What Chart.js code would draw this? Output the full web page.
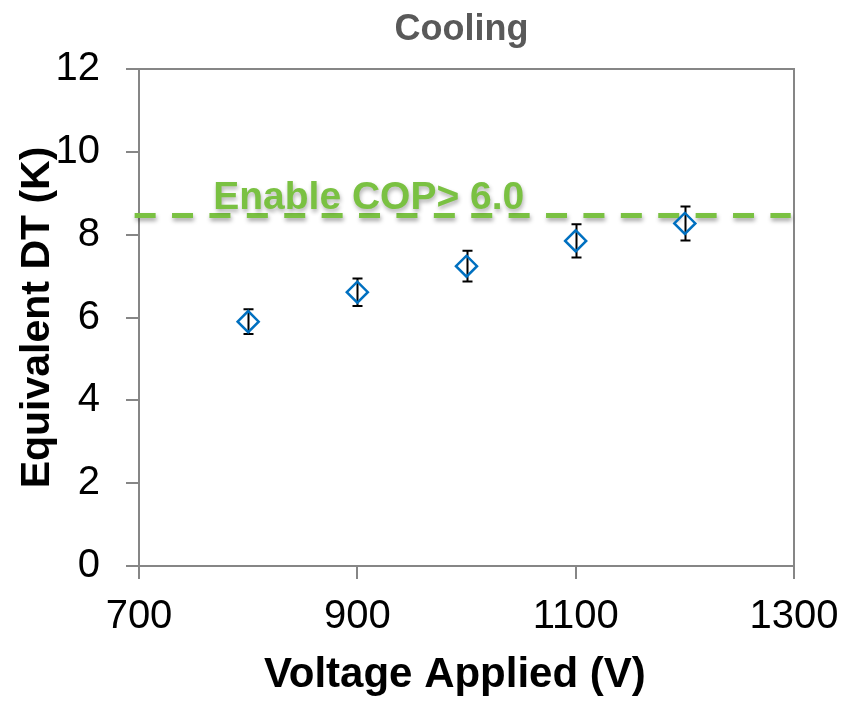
<!DOCTYPE html>
<html>
<head>
<meta charset="utf-8">
<style>
  html, body { margin: 0; padding: 0; background: #fff; overflow: hidden; }
  #myChart { display: block; }
</style>
</head>
<body>
<canvas id="myChart" width="846" height="701"></canvas>
<script src="https://cdn.jsdelivr.net/npm/chart.js@4/dist/chart.umd.min.js"></script>
<script>
// values
const voltages = [800, 900, 1000, 1100, 1200];
const deltaT = [5.90, 6.61, 7.24, 7.85, 8.27];
const errors = [0.30, 0.33, 0.37, 0.40, 0.41];
const copLimit = 8.46;
const limitRange = [696, 1297];
const copLabel = 'Enable COP> 6.0';
const xTicks = [700, 900, 1100, 1300];
const yTicks = [0, 2, 4, 6, 8, 10, 12];

const AXIS_GREY = '#868686';
const GREEN = '#7AC142';
const FONT = "'Liberation Sans', Arial, sans-serif";

Chart.defaults.font.family = FONT;

// error bars, box border, shadow for the dashed line, green label
const extras = {
    id: 'extras',
    beforeDatasetsDraw(chart) {
        const {ctx, chartArea: a, scales: {x, y}} = chart;
        ctx.save();
        ctx.strokeStyle = AXIS_GREY;
        ctx.lineWidth = 2;
        ctx.beginPath();
        ctx.moveTo(a.left, a.top);
        ctx.lineTo(a.right, a.top);
        ctx.lineTo(a.right, a.bottom);
        ctx.stroke();

        ctx.strokeStyle = '#000';
        ctx.lineWidth = 2;
        voltages.forEach((v, i) => {
            const px = Math.round(x.getPixelForValue(v)) + 0.5;
            const top = y.getPixelForValue(deltaT[i] + errors[i]);
            const bot = y.getPixelForValue(deltaT[i] - errors[i]);
            ctx.beginPath();
            ctx.moveTo(px, top); ctx.lineTo(px, bot);
            ctx.moveTo(px - 5, top); ctx.lineTo(px + 5, top);
            ctx.moveTo(px - 5, bot); ctx.lineTo(px + 5, bot);
            ctx.stroke();
        });
        ctx.restore();
    },
    beforeDatasetDraw(chart, args) {
        if (args.index !== 1) return;
        const ctx = chart.ctx;
        ctx.save();
        ctx.shadowColor = 'rgba(0,0,0,0.35)';
        ctx.shadowBlur = 4;
        ctx.shadowOffsetX = 1;
        ctx.shadowOffsetY = 3;
    },
    afterDatasetDraw(chart, args) {
        if (args.index !== 1) return;
        chart.ctx.restore();
    },
    afterDatasetsDraw(chart) {
        const {ctx, scales: {x, y}} = chart;
        ctx.save();
        ctx.shadowColor = 'rgba(0,0,0,0.3)';
        ctx.shadowBlur = 4;
        ctx.shadowOffsetX = 1;
        ctx.shadowOffsetY = 3;
        ctx.fillStyle = GREEN;
        ctx.font = "bold 39px " + FONT;
        ctx.textAlign = 'left';
        ctx.textBaseline = 'alphabetic';
        ctx.fillText(copLabel, x.getPixelForValue(768), y.getPixelForValue(copLimit) - 7);
        ctx.restore();
    }
};

const ctx = document.getElementById('myChart').getContext('2d');
const myChart = new Chart(ctx, {
    type: 'scatter',
    data: {
        datasets: [{
            label: 'Cooling',
            data: voltages.map((v, i) => ({x: v, y: deltaT[i]})),
            pointStyle: 'rectRot',
            pointRadius: 10.5,
            pointBorderWidth: 2.5,
            borderColor: '#0070C0',
            backgroundColor: 'rgba(0,0,0,0)',
            showLine: false,
            order: 1
        }, {
            label: 'COP limit',
            data: limitRange.map(v => ({x: v, y: copLimit})),
            borderColor: GREEN,
            borderWidth: 5,
            borderDash: [21, 16.4],
            pointRadius: 0,
            showLine: true,
            clip: false,
            order: 2
        }]
    },
    options: {
        responsive: false,
        animation: false,
        events: [],
        layout: {
            padding: {left: 0, right: 52, top: 0, bottom: 0}
        },
        plugins: {
            legend: {display: false},
            tooltip: {enabled: false},
            title: {
                display: true,
                fullSize: false,
                text: 'Cooling ',
                color: '#595959',
                font: {size: 36, weight: 'bold'},
                padding: {top: 8, bottom: 17.8}
            }
        },
        scales: {
            x: {
                type: 'linear',
                min: 700,
                max: 1300,
                afterBuildTicks: s => { s.ticks = xTicks.map(v => ({value: v})); },
                afterFit: s => {
                    s.height = 135;
                    s.paddingLeft = 0;
                    s.paddingRight = 0;
                },
                ticks: {
                    color: '#000',
                    font: {size: 40},
                    padding: 14,
                    autoSkip: false,
                    maxRotation: 0,
                    callback: v => String(v)
                },
                grid: {
                    drawOnChartArea: false,
                    drawTicks: true,
                    tickLength: 13,
                    color: AXIS_GREY,
                    lineWidth: 2
                },
                border: {color: AXIS_GREY, width: 2},
                title: {
                    display: true,
                    text: 'Voltage Applied (V)  ',
                    color: '#000',
                    font: {size: 42, weight: 'bold'},
                    padding: {top: 0, bottom: 0}
                }
            },
            y: {
                min: 0,
                max: 12,
                afterBuildTicks: s => { s.ticks = yTicks.map(v => ({value: v})); },
                afterFit: s => { s.width = 139; },
                ticks: {
                    color: '#000',
                    font: {size: 40},
                    padding: 26
                },
                grid: {
                    drawOnChartArea: false,
                    drawTicks: true,
                    tickLength: 13,
                    color: AXIS_GREY,
                    lineWidth: 2
                },
                border: {color: AXIS_GREY, width: 2},
                title: {
                    display: true,
                    text: 'Equivalent DT (K)',
                    color: '#000',
                    font: {size: 41, weight: 'bold'},
                    padding: {top: 13, bottom: 0}
                }
            }
        }
    },
    plugins: [extras]
});
</script>
</body>
</html>
